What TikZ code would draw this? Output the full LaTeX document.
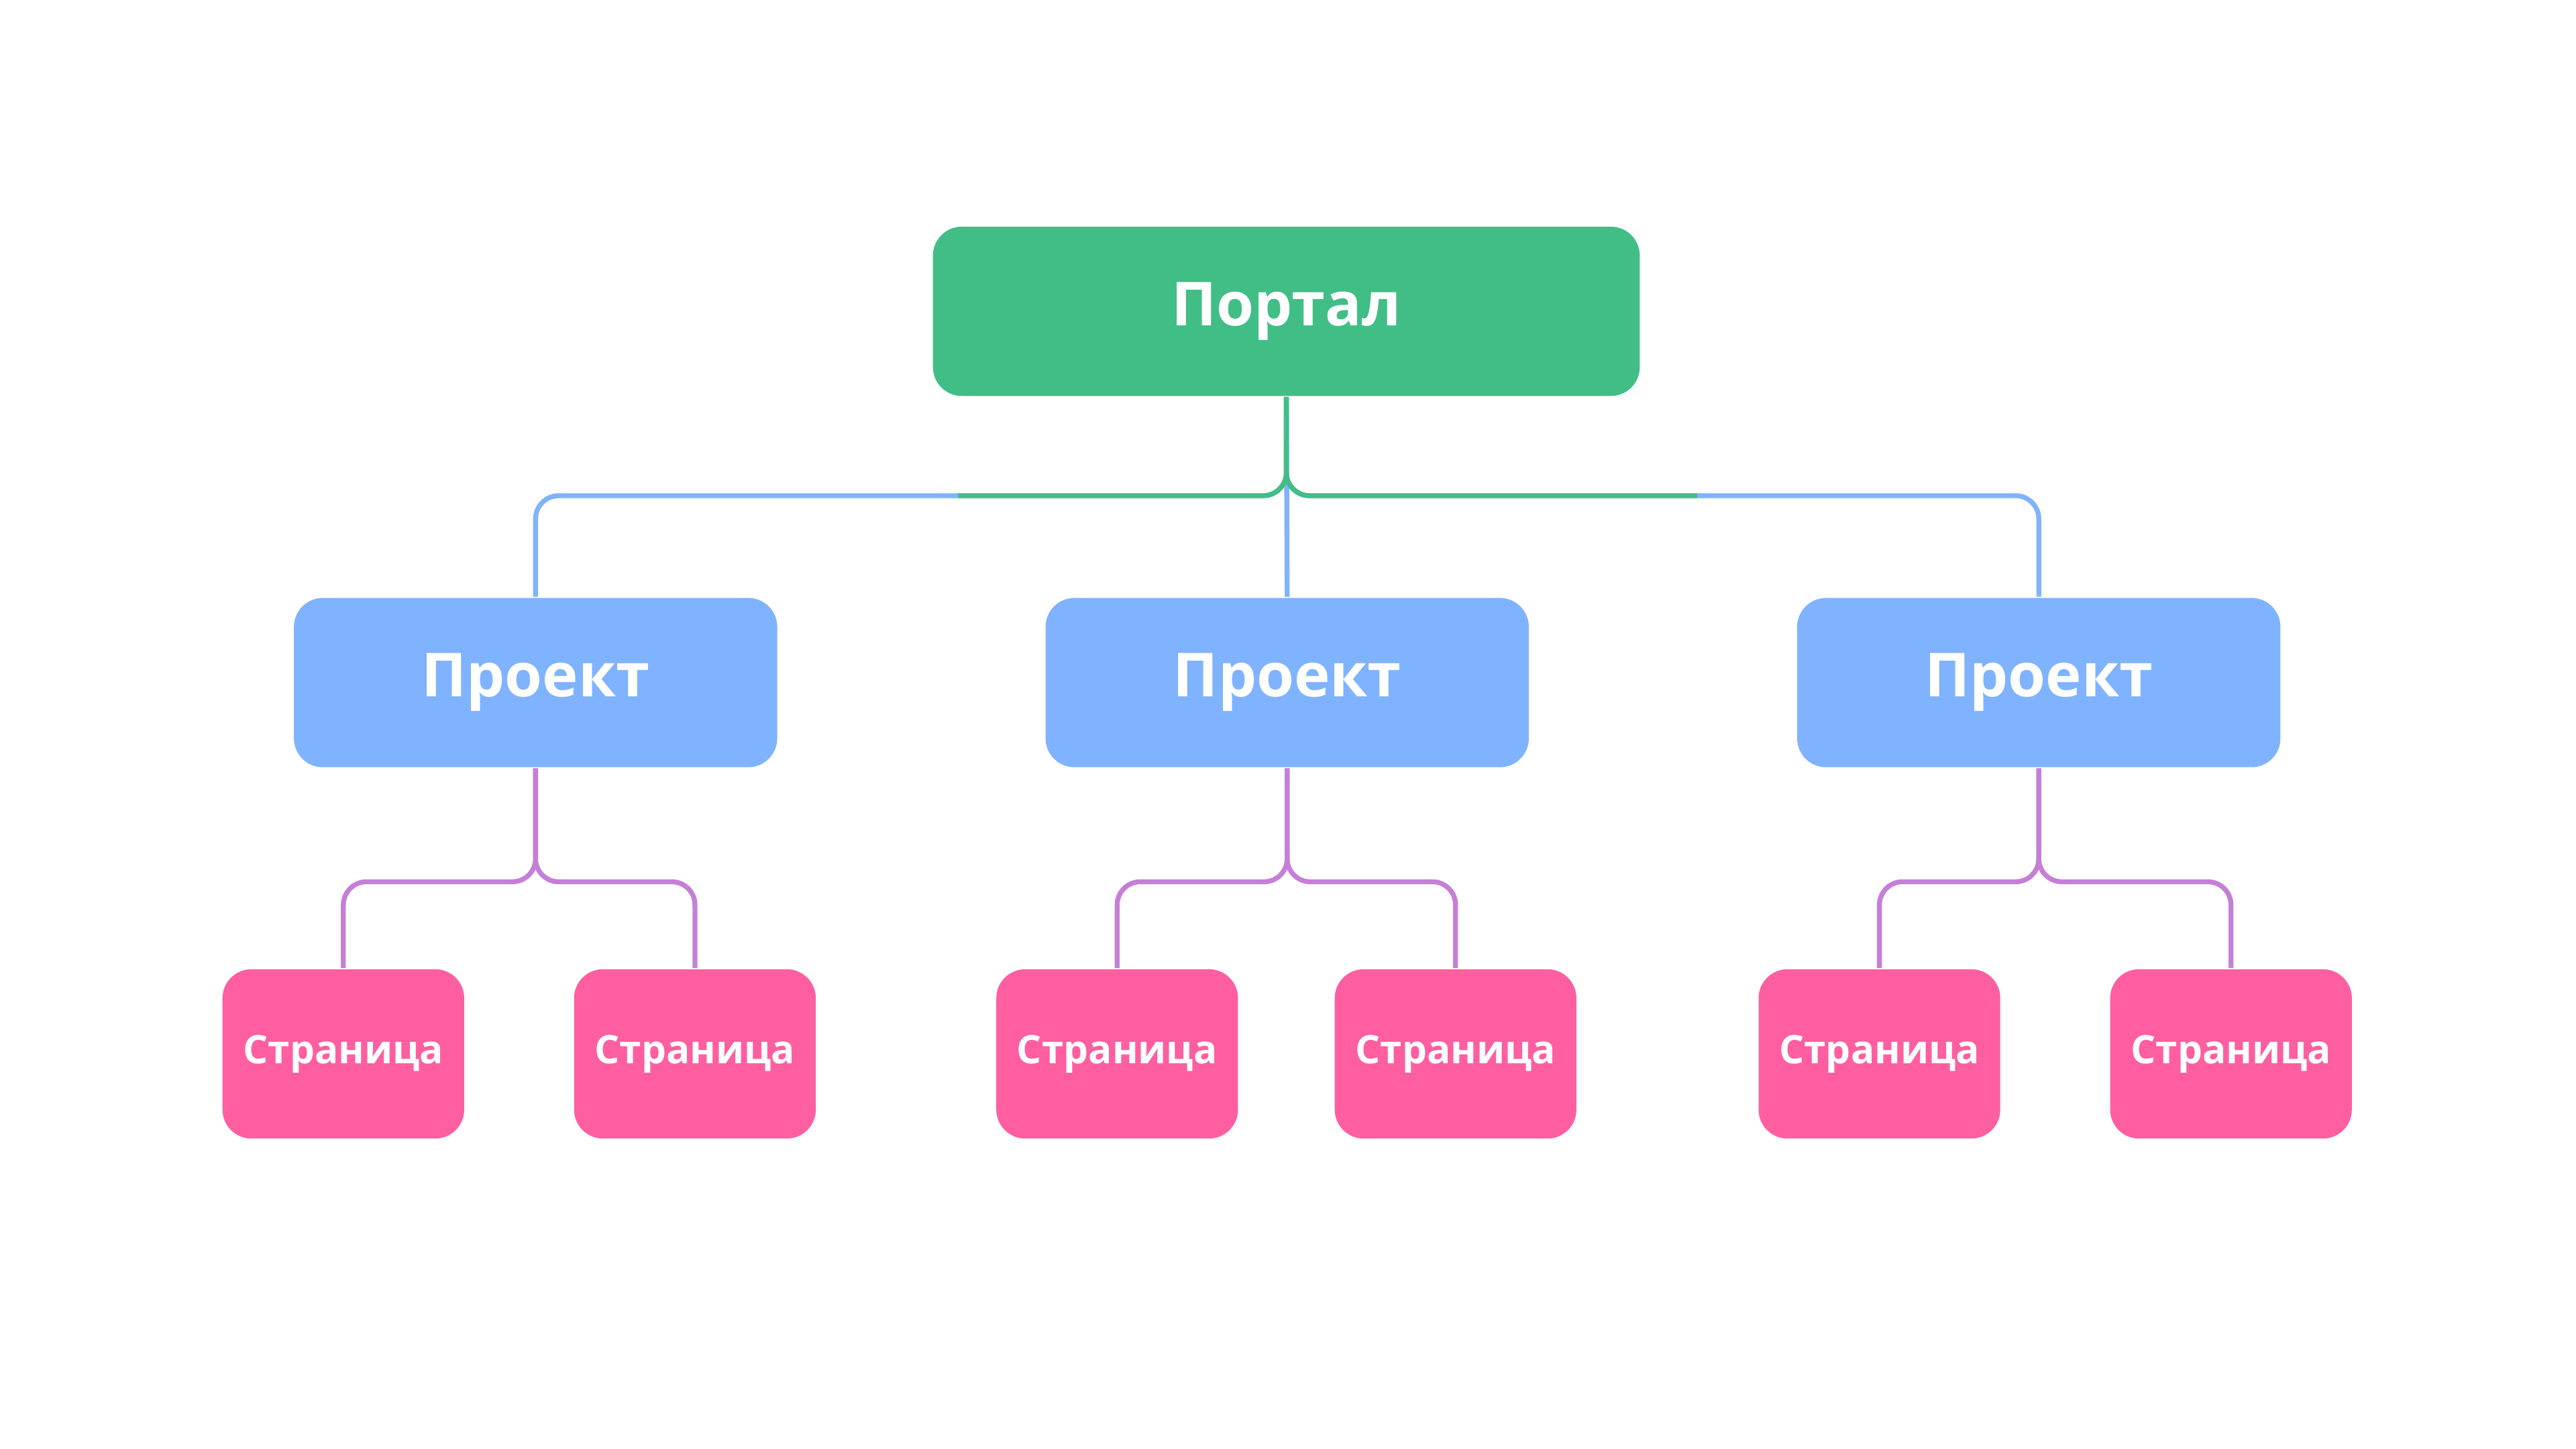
\documentclass[tikz,border=0pt]{standalone}
\usepackage{fontspec}
\setmainfont{Open Sans}
\definecolor{portalgreen}{HTML}{41BE86}
\definecolor{projblue}{HTML}{80B3FF}
\definecolor{pagepink}{HTML}{FF5EA0}
\definecolor{linkviolet}{HTML}{C57FD6}
\begin{document}
\begin{tikzpicture}[x=0.01cm,y=-0.01cm,
    box/.style={rounded corners=5pt, draw=none, text=white, font=\bfseries, inner sep=0pt},
    portal/.style={box, fill=portalgreen, minimum width=4.3cm, minimum height=1.03cm, font=\bfseries\fontsize{10.5}{12}\selectfont},
    project/.style={box, fill=projblue, minimum width=2.94cm, minimum height=1.03cm, font=\bfseries\fontsize{10.5}{12}\selectfont},
    page/.style={box, fill=pagepink, minimum width=1.47cm, minimum height=1.03cm, font=\bfseries\fontsize{6.8}{8}\selectfont},
    link/.style={line width=0.85pt, rounded corners=4pt}]
    % рамка рисунка
    \useasboundingbox (0,0) rectangle (1568,882);

    % портал
    \node[portal] (portal) at (783,189.5) {Портал};

    % проекты
    \node[project] (proj1) at (326,415.5) {Проект};
    \node[project] (proj2) at (783.5,415.5) {Проект};
    \node[project] (proj3) at (1241,415.5) {Проект};

    % страницы
    \node[page] (page1) at (209,641.5) {Страница};
    \node[page] (page2) at (423,641.5) {Страница};
    \node[page] (page3) at (680,641.5) {Страница};
    \node[page] (page4) at (886,641.5) {Страница};
    \node[page] (page5) at (1144,641.5) {Страница};
    \node[page] (page6) at (1358,641.5) {Страница};

    % связи портал -- проекты
    \draw[link, projblue] (portal.south) -- ++(0,60) -| (proj1.north);
    \draw[link, projblue] (portal.south) -- ++(0,60) -| (proj3.north);
    \draw[link, projblue] (portal.south) -- (proj2.north);
    \draw[link, portalgreen] (portal.south) |- ++(-200,60);
    \draw[link, portalgreen] (portal.south) |- ++(250,60);

    % связи проекты -- страницы
    \foreach \p/\a/\b in {proj1/page1/page2, proj2/page3/page4, proj3/page5/page6}{
        \draw[link, linkviolet] (\p.south) -- ++(0,69) -| (\a.north);
        \draw[link, linkviolet] (\p.south) -- ++(0,69) -| (\b.north);
    }
\end{tikzpicture}
\end{document}
